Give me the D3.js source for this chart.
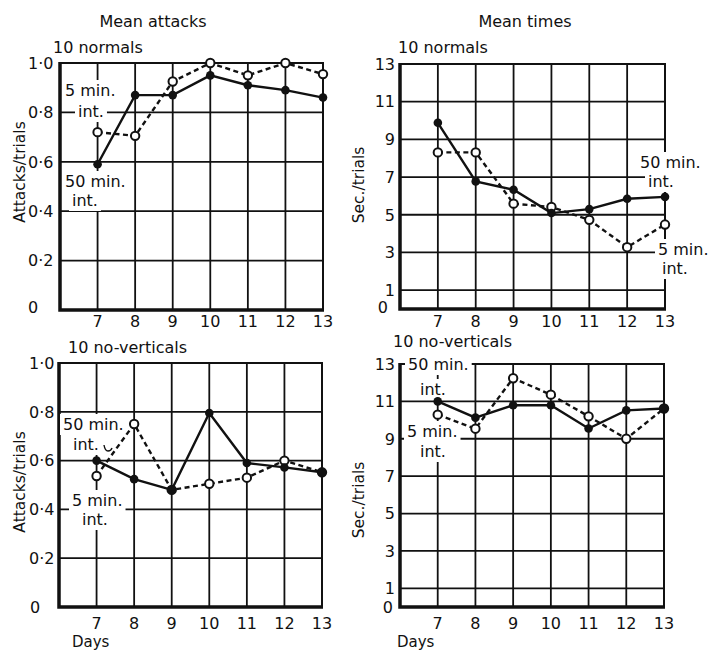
<!DOCTYPE html>
<html><head><meta charset="utf-8">
<script src="https://cdn.jsdelivr.net/npm/d3@7"></script>
<style>
body{margin:0;background:#fff}
text{font-family:"DejaVu Sans",sans-serif;fill:#111;font-size:16px}
</style>
</head><body><svg id="c" width="711" height="650"></svg>
<script>
// ---- data ----
const days = [7,8,9,10,11,12,13];
const attacksNormals50 = [0.59,0.87,0.87,0.95,0.91,0.89,0.86];
const attacksNormals5  = [0.72,0.705,0.925,1.0,0.95,1.0,0.955];
const timesNormals50   = [9.88,6.77,6.33,5.09,5.30,5.85,5.95];
const timesNormals5    = [8.31,8.31,5.59,5.41,4.73,3.28,4.48];
const attacksNoVert50  = [0.60,0.524,0.48,0.795,0.59,0.572,0.552];
const attacksNoVert5   = [0.537,0.75,0.48,0.505,0.53,0.60,0.552];
const timesNoVert50    = [11.0,10.13,10.79,10.79,9.55,10.52,10.62];
const timesNoVert5     = [10.29,9.54,12.24,11.36,10.2,9.0,10.62];
const attackTicks = [0,0.2,0.4,0.6,0.8,1.0];
const attackTickLabels = ["0","0·2","0·4","0·6","0·8","1·0"];
const timeTicks = [0,1,3,5,7,9,11,13];
const timeTickLabels = ["0","1","3","5","7","9","11","13"];
const dayLabels = ["7","8","9","10","11","12","13"];

// ---- layout ----
const svg = d3.select("#c");
const panels = [
  {xr:[60,323], yr:[310,63], dom:[0,1], ticks:attackTicks, tl:attackTickLabels, s50:attacksNormals50, s5:attacksNormals5,
   tickAnchor:"start", tickX:28, zeroX:28, zeroDy:-3, xlabY:327, ylab:"Attacks/trials", ylabX:25, ylabY:172,
   sub:"10 normals", subX:53, subY:53,
   ann:[[["5 min.",65,96],["int.",78,117]],[["50 min.",65,187],["int.",72,206]]], days:false},
  {xr:[400,665], yr:[309,64], dom:[0,13], ticks:timeTicks, tl:timeTickLabels, s50:timesNormals50, s5:timesNormals5,
   tickAnchor:"end", tickX:395, zeroX:388, zeroDy:-2, xlabY:327, ylab:"Sec./trials", ylabX:364, ylabY:185,
   sub:"10 normals", subX:398, subY:53,
   ann:[[["50 min.",640,168],["int.",648,187]],[["5 min.",658,255],["int.",662,274]]], days:false},
  {xr:[59,322], yr:[607,363], dom:[0,1], ticks:attackTicks, tl:attackTickLabels, s50:attacksNoVert50, s5:attacksNoVert5,
   tickAnchor:"start", tickX:29, zeroX:30, zeroDy:0, xlabY:629, ylab:"Attacks/trials", ylabX:25, ylabY:482,
   sub:"10 no-verticals", subX:68, subY:353,
   ann:[[["50 min.",63,430],["int.",73,450]],[["5 min.",72,506],["int.",82,525]]], days:true, daysX:72, hook:true},
  {xr:[400,664], yr:[607,364], dom:[0,13], ticks:timeTicks, tl:timeTickLabels, s50:timesNoVert50, s5:timesNoVert5,
   tickAnchor:"end", tickX:395, zeroX:393, zeroDy:0, xlabY:629, ylab:"Sec./trials", ylabX:364, ylabY:500,
   sub:"10 no-verticals", subX:393, subY:347,
   ann:[[["50 min.",408,370],["int.",420,395]],[["5 min.",407,437],["int.",420,457]]], days:true, daysX:397}
];

svg.append("text").attr("x",153).attr("y",27).attr("text-anchor","middle").text("Mean attacks");
svg.append("text").attr("x",525).attr("y",27).attr("text-anchor","middle").text("Mean times");

panels.forEach(p => {
  const g = svg.append("g");
  const x = d3.scaleLinear().domain([6,13]).range(p.xr);
  const y = d3.scaleLinear().domain(p.dom).range(p.yr);
  const ink = "#111";

  // horizontal grid
  g.selectAll(null).data(p.ticks.filter(t => t > p.dom[0] && t < p.dom[1])).join("line")
    .attr("x1", x(6)).attr("x2", x(13)).attr("y1", d => y(d)).attr("y2", d => y(d))
    .attr("stroke", ink).attr("stroke-width", 1.8);
  // vertical grid
  g.selectAll(null).data(days.filter(d => d < 13)).join("line")
    .attr("x1", d => x(d)).attr("x2", d => x(d)).attr("y1", y(p.dom[0])).attr("y2", y(p.dom[1]))
    .attr("stroke", ink).attr("stroke-width", 1.8);
  // top & right border
  g.append("path").attr("d", `M${x(6)},${y(p.dom[1])}H${x(13)}V${y(p.dom[0])}`)
    .attr("fill","none").attr("stroke", ink).attr("stroke-width", 2);
  // left & bottom axis (thick)
  g.append("path").attr("d", `M${x(6)},${y(p.dom[1])-1}V${y(p.dom[0])}H${x(13)+1}`)
    .attr("fill","none").attr("stroke", ink).attr("stroke-width", 3.5);

  // y tick labels
  g.selectAll(null).data(p.ticks).join("text")
    .attr("x", d => d === 0 ? p.zeroX : p.tickX)
    .attr("y", d => y(d) + (d === 0 ? p.zeroDy : 0))
    .attr("dy", "0.36em")
    .attr("text-anchor", p.tickAnchor)
    .text((d,i) => p.tl[i]);
  // x tick labels
  g.selectAll(null).data(days).join("text")
    .attr("x", d => x(d)).attr("y", p.xlabY).attr("text-anchor","middle")
    .text((d,i) => dayLabels[i]);
  // y axis title
  g.append("text").attr("transform", `translate(${p.ylabX},${p.ylabY}) rotate(-90)`)
    .attr("text-anchor","middle").style("font-size","15.5px").text(p.ylab);
  // subtitle
  g.append("text").attr("x", p.subX).attr("y", p.subY).text(p.sub);
  if (p.days) g.append("text").attr("x", p.daysX).attr("y", 647).style("font-size","15px").text("Days");

  // annotations with white background
  p.ann.forEach(grp => {
    grp.forEach(a => {
      const bg = g.append("rect").attr("fill","#fff");
      const t = g.append("text").attr("x", a[1]).attr("y", a[2]).text(a[0]);
      const b = t.node().getBBox();
      bg.attr("x", b.x - 3).attr("y", b.y - 1).attr("width", b.width + 6).attr("height", b.height + 2);
    });
  });
  if (p.hook) {
    g.append("path").attr("d", "M104,445 q1,6 4,6 q3,0 4,-3")
      .attr("fill","none").attr("stroke", ink).attr("stroke-width", 1.4);
  }

  // data
  const pts50 = days.map((d,i) => [d, p.s50[i]]);
  const pts5 = days.map((d,i) => [d, p.s5[i]]);
  const line = d3.line().x(d => x(d[0])).y(d => y(d[1]));
  g.append("path").attr("d", line(pts5)).attr("fill","none").attr("stroke", ink)
    .attr("stroke-width", 2.4).attr("stroke-dasharray","5,3.5");
  g.append("path").attr("d", line(pts50)).attr("fill","none").attr("stroke", ink)
    .attr("stroke-width", 2.4);
  g.selectAll(null).data(pts5).join("circle")
    .attr("cx", d => x(d[0])).attr("cy", d => y(d[1])).attr("r", 4.2)
    .attr("fill","#fff").attr("stroke", ink).attr("stroke-width", 2);
  g.selectAll(null).data(pts50).join("circle")
    .attr("cx", d => x(d[0])).attr("cy", d => y(d[1])).attr("r", 4.3)
    .attr("fill", ink);
});
</script>
</body></html>
